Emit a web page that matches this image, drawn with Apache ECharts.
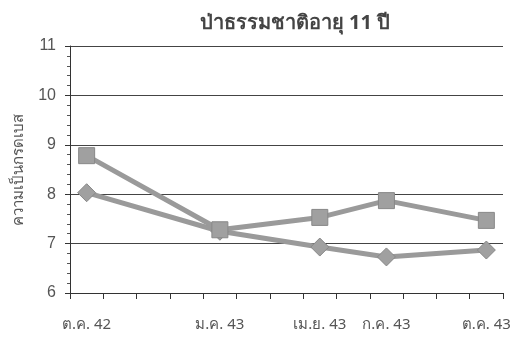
<!DOCTYPE html>
<html>
<head>
<meta charset="utf-8">
<script src="https://cdn.jsdelivr.net/npm/echarts@6/dist/echarts.min.js"></script>
<style>
  html, body { margin: 0; padding: 0; background: #fff; }
  #chart { width: 528px; height: 351px; }
</style>
</head>
<body>
<div id="chart"></div>
<script>
// Sampling positions along the month axis (months since start of ต.ค. 42)
const samplePos = [0.5, 4.5, 7.5, 9.5, 12.5];
const sampleLabels = ['ต.ค. 42', 'ม.ค. 43', 'เม.ย. 43', 'ก.ค. 43', 'ต.ค. 43'];
// pH readings for the two series
const squareSeries = [8.78, 7.28, 7.53, 7.87, 7.47];
const diamondSeries = [8.03, 7.25, 6.93, 6.73, 6.87];
const yTicks = [6, 7, 8, 9, 10, 11];

const labelFor = {};
samplePos.forEach((p, i) => { labelFor[p] = sampleLabels[i]; });

const pair = (vals) => samplePos.map((p, i) => [p, vals[i]]);

const chart = echarts.init(document.getElementById('chart'));
chart.setOption({
  backgroundColor: '#ffffff',
  animation: false,
  title: {
    text: 'ป่าธรรมชาติอายุ 11 ปี',
    left: 290,
    textAlign: 'center',
    top: 8,
    textStyle: { fontFamily: 'Noto Sans', fontSize: 20, fontWeight: 'bold', color: '#444' }
  },
  grid: { left: 70, right: 25, top: 46, bottom: 58 },
  xAxis: {
    type: 'value',
    min: 0,
    max: 13,
    interval: 1,
    axisLine: { lineStyle: { color: '#333', width: 1 } },
    axisTick: { show: true, length: 6, lineStyle: { color: '#333' } },
    splitLine: { show: false },
    axisLabel: {
      customValues: samplePos,
      formatter: (v) => labelFor[v] || '',
      margin: 24,
      fontFamily: 'Noto Sans',
      fontSize: 15,
      color: '#555'
    }
  },
  yAxis: {
    type: 'value',
    min: yTicks[0],
    max: yTicks[yTicks.length - 1],
    interval: 1,
    name: 'ความเป็นกรดเบส',
    nameLocation: 'middle',
    nameGap: 44,
    nameTextStyle: { fontFamily: 'Noto Sans', fontSize: 15, color: '#555' },
    axisLine: { show: true, lineStyle: { color: '#333', width: 1 } },
    axisTick: { show: true, length: 5, lineStyle: { color: '#333' } },
    minorTick: { show: true, splitNumber: 5, length: 3, lineStyle: { color: '#555' } },
    splitLine: { show: true, lineStyle: { color: '#444', width: 1 } },
    axisLabel: { fontFamily: 'Liberation Sans', fontSize: 16, color: '#555', margin: 14 }
  },
  series: [
    {
      type: 'line',
      data: pair(squareSeries),
      symbol: 'rect',
      symbolSize: 16,
      lineStyle: { color: '#9a9a9a', width: 5 },
      itemStyle: { color: '#a0a0a0', borderColor: '#888', borderWidth: 1 },
      z: 3
    },
    {
      type: 'line',
      data: pair(diamondSeries),
      symbol: 'diamond',
      symbolSize: [18, 18],
      lineStyle: { color: '#9a9a9a', width: 5 },
      itemStyle: { color: '#a0a0a0', borderColor: '#888', borderWidth: 1 },
      z: 2
    }
  ]
});
</script>
</body>
</html>
